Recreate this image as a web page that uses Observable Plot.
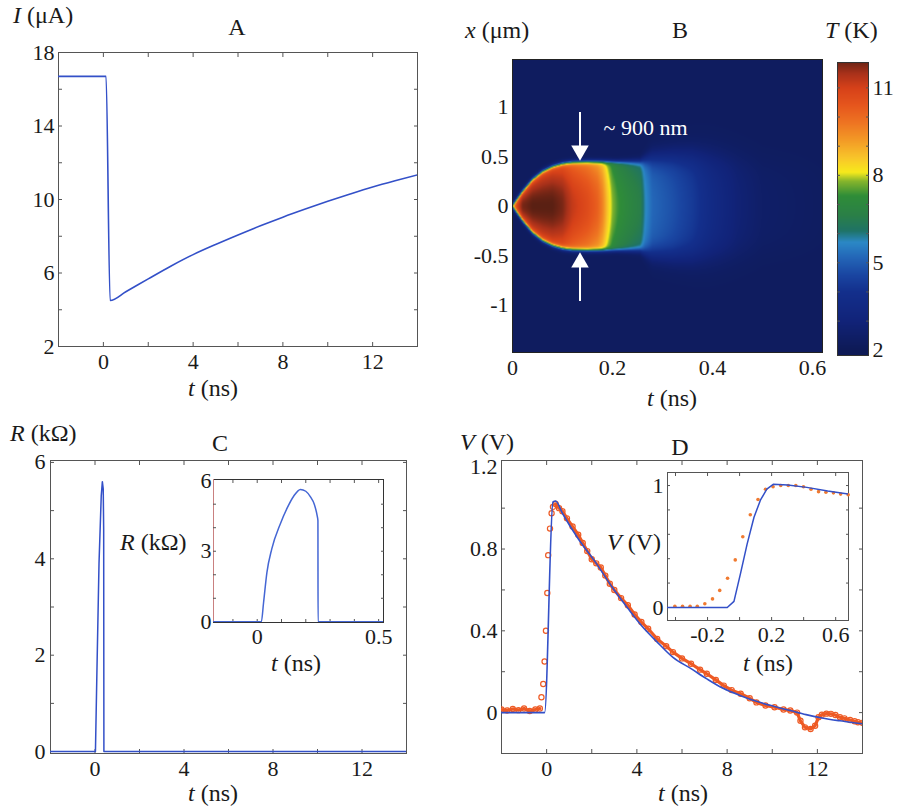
<!DOCTYPE html>
<html><head><meta charset="utf-8">
<script src="https://cdn.jsdelivr.net/npm/d3@7"></script>
<script src="https://cdn.jsdelivr.net/npm/@observablehq/plot@0.6"></script>
<style>
body{margin:0;background:#fff;}
#fig{position:relative;width:898px;height:811px;overflow:hidden;font-family:"Liberation Serif","DejaVu Serif",serif;color:#1a1a1a;background:#fff;}
.lab{position:absolute;font-size:24px;white-space:nowrap;line-height:1;}
.lab i{font-style:italic}
#fig svg{overflow:visible}
</style></head><body><div id="fig"></div>
<script>
// ---------- data ----------
// Panel A: current I (µA) vs t (ns)
const aT = [-2, 0.12, 0.3, 1, 2, 3, 4, 5, 6, 7, 8, 9, 10, 11, 12, 13, 14];
const aI = [16.7, 16.7, 4.5, 4.98, 5.68, 6.37, 7.0, 7.55, 8.07, 8.57, 9.04, 9.48, 9.9, 10.3, 10.68, 11.02, 11.34];

// Panel B: hotspot temperature map, read column by column
const bT     = [0, 0.01, 0.02, 0.04, 0.06, 0.08, 0.10, 0.12, 0.15, 0.17, 0.18, 0.19, 0.20, 0.21, 0.23, 0.255, 0.265, 0.28, 0.32, 0.36, 0.40, 0.45, 0.5, 0.62];
const bCoreT = [9, 11, 11.8, 12, 12, 12, 11.8, 11.2, 10.7, 10.2, 9.6, 8.6, 7.8, 7.4, 7.0, 6.6, 5.8, 5.2, 4.8, 4.3, 3.6, 2.9, 2.5, 2.3];
const bHalfW = [0.01, 0.08, 0.15, 0.27, 0.35, 0.40, 0.43, 0.445, 0.45, 0.45, 0.45, 0.45, 0.45, 0.45, 0.45, 0.45, 0.47, 0.5, 0.52, 0.53, 0.52, 0.5, 0.45, 0.4];
const bEdge  = [0.012, 0.012, 0.012, 0.012, 0.012, 0.012, 0.012, 0.012, 0.012, 0.012, 0.012, 0.012, 0.012, 0.012, 0.014, 0.018, 0.03, 0.05, 0.06, 0.07, 0.08, 0.08, 0.08, 0.08];
const bBackground = 2.25;
const arrowT = [0.135, 0.135];
const arrowFrom = [0.95, -0.96];
const arrowHead = [0.56, -0.57];
const colorStops  = [2, 3, 4, 4.6, 5.2, 5.7, 6.1, 6.6, 7.3, 7.8, 8.1, 8.6, 9.2, 9.8, 10.4, 11, 11.5, 12];
const colorRange  = ["#0e1a56","#112379","#132f8c","#1a46a2","#2467b8","#2b88c6","#1f7366","#2a7f48","#2f8d38","#86b52c","#f7ea1c","#f8c52a","#f39a26","#ee7422","#e6561d","#d64119","#a8311a","#5a2013"];

// Panel C: resistance R (kΩ)
const cMainT = [-2, 0.02, 0.08, 0.18, 0.28, 0.33, 0.37, 0.39, 0.4, 14];
const cMainR = [0, 0, 1.5, 3.9, 5.3, 5.6, 5.45, 4.6, 0, 0];
const cInT = [-0.18, 0.017, 0.026, 0.04, 0.06, 0.095, 0.123, 0.15, 0.178, 0.2, 0.22, 0.235, 0.247, 0.25, 0.2505, 0.52];
const cInR = [0, 0, 0.8, 2.1, 3.1, 4.16, 4.83, 5.34, 5.63, 5.55, 5.3, 5.0, 4.5, 4.3, 0, 0];

// Panel D: voltage V (V), simulation (blue) and measurement (red)
const dSimT = [-2, -0.09, 0.28, 0.4, 0.7, 1.4, 2.2, 2.9, 3.6, 4.2, 4.9, 5.6, 6.4, 7.1, 7.8, 8.6, 9.3, 10.1, 10.8, 11.5, 12.2, 13, 13.8, 14];
const dSimV = [0, 0, 1.03, 1.035, 0.975, 0.85, 0.73, 0.614, 0.51, 0.426, 0.345, 0.27, 0.215, 0.165, 0.12, 0.083, 0.055, 0.03, 0.01, -0.01, -0.026, -0.04, -0.052, -0.055];
const dMeasT = [-2, -1.75, -1.5, -1.25, -1, -0.75, -0.5, -0.3, 0.4, 0.55, 0.7, 0.9, 1.15, 1.4, 1.6, 1.8, 2.0, 2.2, 2.4, 2.6, 2.8, 3.0, 3.3, 3.6, 3.9, 4.2, 4.5, 4.9, 5.3, 5.6, 6.0, 6.4, 6.8, 7.1, 7.5, 7.85, 8.2, 8.6, 9.0, 9.3, 9.7, 10.1, 10.5, 10.8, 11.1, 11.25, 11.45, 11.7, 11.9, 12.05, 12.2, 12.4, 12.6, 12.8, 13.0, 13.2, 13.45, 13.65, 13.8, 14];
const dMeasV = [0.015, 0.01, 0.018, 0.012, 0.02, 0.008, 0.015, 0.02, 1.02, 1.0, 0.985, 0.95, 0.91, 0.87, 0.83, 0.79, 0.75, 0.73, 0.71, 0.67, 0.63, 0.6, 0.56, 0.525, 0.48, 0.443, 0.41, 0.36, 0.325, 0.296, 0.265, 0.239, 0.21, 0.19, 0.16, 0.132, 0.11, 0.092, 0.07, 0.05, 0.035, 0.026, 0.015, 0.01, 0.0, -0.04, -0.072, -0.08, -0.064, -0.023, -0.01, -0.005, -0.006, -0.012, -0.023, -0.028, -0.036, -0.042, -0.047, -0.05];
const dRiseT = [-0.23, -0.15, -0.09, -0.03, 0.03, 0.07, 0.15, 0.22, 0.28];
const dRiseV = [0.075, 0.14, 0.25, 0.40, 0.585, 0.77, 0.90, 0.975, 1.006];
// Inset D
const dInSimT = [-0.45, -0.077, -0.035, 0.006, 0.047, 0.09, 0.13, 0.17, 0.21, 0.3, 0.42, 0.55, 0.68];
const dInSimV = [0, 0, 0.05, 0.28, 0.52, 0.74, 0.88, 0.97, 1.01, 1.005, 0.985, 0.955, 0.93];
const dInMeasT = [-0.404, -0.356, -0.309, -0.264, -0.217, -0.169, -0.124, -0.075, -0.027, 0.020, 0.067, 0.115, 0.162, 0.209, 0.257, 0.304, 0.351, 0.399, 0.446, 0.493, 0.539, 0.586, 0.631, 0.678];
const dInMeasV = [0.01, 0.01, 0.01, 0.01, 0.03, 0.07, 0.14, 0.24, 0.39, 0.58, 0.76, 0.885, 0.97, 0.99, 1.0, 1.0, 1.0, 0.99, 0.97, 0.95, 0.945, 0.94, 0.93, 0.925];

// tick sets
const tX16 = [0, 2, 4, 6, 8, 10, 12];
const tXlab16 = [0, 4, 8, 12];

// ---------- helpers ----------
const blue = "#3350c8", red = "#ee5a24", frameC = "#555";
const fig = document.getElementById("fig");
const zip = (xs, ys) => xs.map((x, i) => ({x, y: ys[i]}));
const fmt = d => String(d);

function axes({xt, xl, yt, yl, tk = 4, xPad = 7, yPad = 4, yAnchor = "left", ticks = true}) {
  const out = [];
  if (ticks) {
    if (xt) for (const a of ["bottom", "top"]) out.push(Plot.axisX({ticks: xt, anchor: a, tickSize: -tk, tickFormat: () => "", label: null, stroke: frameC}));
    if (yt) for (const a of ["left", "right"]) out.push(Plot.axisY({ticks: yt, anchor: a, tickSize: -tk, tickFormat: () => "", label: null, stroke: frameC}));
  }
  if (xl) out.push(Plot.axisX({ticks: xl, anchor: "bottom", tickSize: 0, tickPadding: xPad, tickFormat: fmt, label: null, fontSize: 22}));
  if (yl) out.push(Plot.axisY({ticks: yl, anchor: yAnchor, tickSize: 0, tickPadding: yPad, tickFormat: fmt, label: null, fontSize: 22}));
  return out;
}

function panel(frame, opts, marks) {
  const [L, T, R, B] = frame;
  const m = {t: 4, r: 40, b: 40, l: 60, ...(opts.m || {})};
  const p = Plot.plot({
    width: R - L + m.l + m.r, height: B - T + m.t + m.b,
    marginTop: m.t, marginRight: m.r, marginBottom: m.b, marginLeft: m.l,
    x: opts.noX ? {domain: opts.x, axis: null} : {domain: opts.x},
    y: {domain: opts.y},
    color: opts.color,
    style: {fontFamily: '"Liberation Serif", serif', fontSize: "22px", color: "#1a1a1a", background: "transparent", overflow: "visible"},
    marks
  });
  p.style.position = "absolute";
  p.style.left = (L - m.l) + "px";
  p.style.top = (T - m.t) + "px";
  fig.append(p);
}

function label(html, x, y, anchor = "middle") {
  const d = document.createElement("div");
  d.className = "lab";
  d.innerHTML = html;
  d.style.left = x + "px";
  d.style.top = y + "px";
  d.style.transform = anchor === "middle" ? "translate(-50%,-50%)" : "translate(0,-50%)";
  fig.append(d);
}

// ---------- Panel A ----------
panel([58, 52, 417, 346], {x: [-2, 14], y: [2, 18]}, [
  Plot.frame({stroke: frameC}),
  ...axes({xt: tX16, xl: tXlab16, yt: [4, 6, 8, 10, 12, 14, 16], yl: [2, 6, 10, 14, 18], yPad: 4}),
  Plot.line(zip(aT, aI), {x: "x", y: "y", stroke: blue, strokeWidth: 1.6, curve: "monotone-x", clip: true})
]);

// ---------- Panel B ----------
const cS = d3.scaleLinear(bT, bCoreT).clamp(true);
const wS = d3.scaleLinear(bT, bHalfW).clamp(true);
const eS = d3.scaleLinear(bT, bEdge).clamp(true);
function temp(t, x) {
  const tc = cS(t), w = wS(t), e = eS(t), r = Math.abs(x);
  const inner = bBackground + (tc - bBackground) * (1 - 0.14 * Math.min(1, (r / w) ** 2));
  const s = 1 / (1 + Math.exp((r - w) / e));
  return bBackground + (inner - bBackground) * s;
}
const colorScale = {type: "linear", domain: colorStops, range: colorRange, clamp: true};
panel([512, 59, 822, 352], {x: [0, 0.62], y: [-1.48, 1.48], color: colorScale}, [
  Plot.raster({x1: 0, x2: 0.62, y1: -1.48, y2: 1.48, fill: temp, pixelSize: 1}),
  Plot.frame({stroke: "#222"}),
  ...axes({xl: [0, 0.2, 0.4, 0.6], yl: [-1, -0.5, 0, 0.5, 1], ticks: false, yPad: 4}),
  Plot.link(arrowT.map((t, i) => ({t, a: arrowFrom[i], b: arrowHead[i]})), {x1: "t", x2: "t", y1: "a", y2: "b", stroke: "white", strokeWidth: 2}),
  Plot.dot(arrowT.map((t, i) => ({t, b: arrowHead[i], rot: arrowHead[i] > 0 ? 180 : 0})), {x: "t", y: "b", symbol: "triangle", r: 6.5, fill: "white", stroke: "none", rotate: "rot"}),
  Plot.text(["~ 900 nm"], {x: 0.182, y: 0.79, text: d => d, fill: "white", fontSize: 22, textAnchor: "start"})
]);
// colour bar
panel([837, 62, 868, 355], {x: [0, 1], y: [1.82, 11.87], color: colorScale, noX: true, m: {l: 4, r: 40}}, [
  Plot.raster({x1: 0, x2: 1, y1: 1.82, y2: 11.87, fill: (x, y) => y, pixelSize: 1}),
  Plot.frame({stroke: "#333"}),
  ...axes({yt: [3, 4, 5, 6, 7, 8, 9, 10, 11], yl: [2, 5, 8, 11], yAnchor: "right", tk: 3, yPad: 4})
]);

// ---------- Panel C ----------
panel([50, 460, 406, 753], {x: [-2, 14], y: [-0.04, 6.04]}, [
  Plot.frame({stroke: frameC}),
  ...axes({xt: tX16, xl: tXlab16, yt: [1, 2, 3, 4, 5, 6], yl: [0, 2, 4, 6], yPad: 5}),
  Plot.line(zip(cMainT, cMainR), {x: "x", y: "y", stroke: blue, strokeWidth: 1.5, clip: true})
]);
panel([213, 479, 383, 622], {x: [-0.18, 0.52], y: [-0.03, 6.05], m: {l: 30, r: 10}}, [
  Plot.frame({fill: "white", stroke: "#333"}),
  Plot.ruleX([-0.18], {stroke: "#c98080", strokeWidth: 1}),
  ...axes({xt: [-0.1, 0, 0.1, 0.2, 0.3, 0.4, 0.5], xl: [0, 0.5], yt: [1, 2, 3, 4, 5], yl: [0, 3, 6], yPad: 2, xPad: 6, tk: 3}),
  Plot.line(zip(cInT, cInR), {x: "x", y: "y", stroke: "#4466d4", strokeWidth: 1.5, curve: "monotone-x", clip: true})
]);

// ---------- Panel D ----------
const dMeas = zip(dMeasT, dMeasV).map(d => ({...d, seg: d.x < 0 ? "pre" : "post"}));
panel([501, 460, 862, 753], {x: [-2, 14], y: [-0.2, 1.233]}, [
  Plot.frame({stroke: frameC}),
  ...axes({xt: tX16, xl: tXlab16, yt: [0, 0.2, 0.4, 0.6, 0.8, 1.0], yl: [0, 0.4, 0.8, 1.2], yPad: 4}),
  Plot.line(dMeas, {x: "x", y: "y", z: "seg", stroke: red, strokeWidth: 3.2, clip: true}),
  Plot.dot(dMeas, {x: "x", y: "y", r: 2.6, stroke: red, strokeWidth: 1.2, fill: "none", clip: true}),
  Plot.dot(zip(dRiseT, dRiseV), {x: "x", y: "y", r: 2.6, stroke: red, strokeWidth: 1.2, fill: "none"}),
  Plot.line(zip(dSimT, dSimV), {x: "x", y: "y", stroke: blue, strokeWidth: 1.6, curve: "monotone-x", clip: true})
]);
panel([667, 472, 848, 620], {x: [-0.45, 0.68], y: [-0.107, 1.107], m: {l: 30, r: 10}}, [
  Plot.frame({fill: "white", stroke: "#555"}),
  ...axes({xt: [-0.4, -0.2, 0, 0.2, 0.4, 0.6], xl: [-0.2, 0.2, 0.6], yt: [0.2, 0.4, 0.6, 0.8, 1.0], yl: [0, 1], yPad: 4, xPad: 6, tk: 3}),
  Plot.dot(zip(dInMeasT, dInMeasV), {x: "x", y: "y", r: 1.8, fill: "#f07a30", stroke: "none"}),
  Plot.line(zip(dInSimT, dInSimV), {x: "x", y: "y", stroke: blue, strokeWidth: 1.5, clip: true})
]);

// ---------- text labels ----------
label("<i>I</i> (μA)", 13, 15, "start");
label("A", 237, 27);
label("<i>t</i> (ns)", 213, 388);
label("<i>x</i> (μm)", 465, 30, "start");
label("B", 680, 30);
label("<i>T</i> (K)", 825, 30, "start");
label("<i>t</i> (ns)", 672, 398);
label("<i>R</i> (kΩ)", 10, 433, "start");
label("C", 220, 443);
label("<i>R</i> (kΩ)", 120, 542, "start");
label("<i>t</i> (ns)", 296, 663);
label("<i>t</i> (ns)", 213, 793);
label("<i>V</i> (V)", 460, 442, "start");
label("D", 680, 447);
label("<i>V</i> (V)", 607, 542, "start");
label("<i>t</i> (ns)", 768, 663);
label("<i>t</i> (ns)", 683, 793);
</script></body></html>
